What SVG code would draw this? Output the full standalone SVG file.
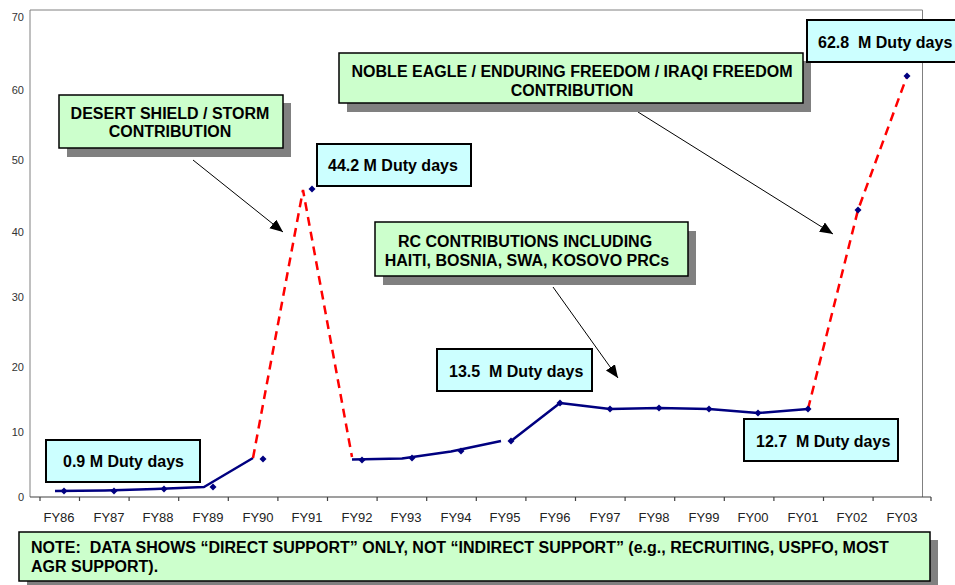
<svg xmlns="http://www.w3.org/2000/svg" xmlns:xlink="http://www.w3.org/1999/xlink" width="955" height="585" viewBox="0 0 955 585">
<style>
.green{fill:#CCFFCC;stroke:#000;stroke-width:1.5}
.cyan{fill:#CCFFFF;stroke:#000;stroke-width:2}
.shadow{fill:#808080}
.lbl{font-family:"Liberation Sans",Arial,sans-serif;font-weight:bold;font-size:16px;fill:#000}
.ax{font-family:"Liberation Sans",Arial,sans-serif;font-size:11px;fill:#333}
.xl{font-family:"Liberation Sans",Arial,sans-serif;font-size:13px;fill:#222;text-anchor:middle}
.navy{fill:none;stroke:#000080;stroke-width:2.5;stroke-linejoin:round}
.red{fill:none;stroke:#FF0000;stroke-width:2.5;stroke-dasharray:9 6}
.arrow{stroke:#000;stroke-width:1;fill:none}
.frame{fill:none;stroke:#808080;stroke-width:1}
.axis{stroke:#404040;stroke-width:1.2;fill:none}
.dm{fill:#000080}
</style>
<defs>
<path id="dia" d="M0,-3.5 L3.5,0 L0,3.5 L-3.5,0 Z"/>
<marker id="ah" markerUnits="userSpaceOnUse" markerWidth="14" markerHeight="12" refX="13" refY="5.5" orient="auto">
<path d="M0,0 L13,5.5 L0,11 Z" fill="#000"/>
</marker>
</defs>
<rect width="955" height="585" fill="#fff"/>

<g id="chart-frame">
<path class="frame" d="M30,497 V10 H922.5 V497"/>
<path class="axis" d="M30,497 H931 M40,497 V501 M79.5,497 V501 M129.1,497 V501 M178.7,497 V501 M228.3,497 V501 M277.9,497 V501 M327.5,497 V501 M377.1,497 V501 M426.7,497 V501 M476.3,497 V501 M525.9,497 V501 M575.5,497 V501 M625.1,497 V501 M674.7,497 V501 M724.3,497 V501 M773.9,497 V501 M823.5,497 V501 M873.1,497 V501 M931,497 V501"/>
</g>

<g id="y-labels" text-anchor="end">
<text class="ax" x="24" y="21">70</text>
<text class="ax" x="24" y="94">60</text>
<text class="ax" x="24" y="164">50</text>
<text class="ax" x="24" y="236">40</text>
<text class="ax" x="24" y="301">30</text>
<text class="ax" x="24" y="371">20</text>
<text class="ax" x="24" y="436">10</text>
<text class="ax" x="24" y="501">0</text>
</g>

<g id="x-labels">
<text class="xl" x="59" y="522">FY86</text>
<text class="xl" x="109" y="522">FY87</text>
<text class="xl" x="158" y="522">FY88</text>
<text class="xl" x="208" y="522">FY89</text>
<text class="xl" x="258" y="522">FY90</text>
<text class="xl" x="307" y="522">FY91</text>
<text class="xl" x="357" y="522">FY92</text>
<text class="xl" x="406" y="522">FY93</text>
<text class="xl" x="456" y="522">FY94</text>
<text class="xl" x="505" y="522">FY95</text>
<text class="xl" x="555" y="522">FY96</text>
<text class="xl" x="605" y="522">FY97</text>
<text class="xl" x="654" y="522">FY98</text>
<text class="xl" x="704" y="522">FY99</text>
<text class="xl" x="753" y="522">FY00</text>
<text class="xl" x="803" y="522">FY01</text>
<text class="xl" x="852" y="522">FY02</text>
<text class="xl" x="902" y="522">FY03</text>
</g>

<g id="data-series">
<polyline class="navy" points="55,491 105,490.5 155,489 204,487 253,458"/>
<polyline class="red" points="253,458 303,190 352,457"/>
<polyline class="navy" points="352,459.5 402,458.5 451,451.5 501,441"/>
<polyline class="navy" points="511,441 560,403 610,409 659,408 709,409 758,413 808,409"/>
<polyline class="red" points="808,409 858,210 907,76"/>
<use href="#dia" class="dm" x="64" y="491"/>
<use href="#dia" class="dm" x="114" y="491"/>
<use href="#dia" class="dm" x="164" y="489"/>
<use href="#dia" class="dm" x="213" y="487"/>
<use href="#dia" class="dm" x="263" y="459"/>
<use href="#dia" class="dm" x="312" y="189"/>
<use href="#dia" class="dm" x="362" y="460"/>
<use href="#dia" class="dm" x="412" y="458"/>
<use href="#dia" class="dm" x="461" y="451"/>
<use href="#dia" class="dm" x="511" y="441"/>
<use href="#dia" class="dm" x="560" y="403"/>
<use href="#dia" class="dm" x="610" y="409"/>
<use href="#dia" class="dm" x="659" y="408"/>
<use href="#dia" class="dm" x="709" y="409"/>
<use href="#dia" class="dm" x="758" y="413"/>
<use href="#dia" class="dm" x="808" y="409"/>
<use href="#dia" class="dm" x="858" y="210"/>
<use href="#dia" class="dm" x="907" y="76"/>
</g>

<g id="connectors">
<line class="arrow" x1="193" y1="160" x2="283" y2="232" marker-end="url(#ah)"/>
<line class="arrow" x1="553" y1="287" x2="618" y2="378" marker-end="url(#ah)"/>
<line class="arrow" x1="638" y1="112" x2="833" y2="234" marker-end="url(#ah)"/>
</g>

<g id="desert-storm">
<rect class="shadow" x="67" y="103" width="224" height="54"/>
<rect class="green" x="59" y="95" width="224" height="53"/>
<text class="lbl" x="170" y="119" text-anchor="middle">DESERT SHIELD / STORM</text>
<text class="lbl" x="170" y="137" text-anchor="middle">CONTRIBUTION</text>
</g>

<g id="noble-eagle">
<rect class="shadow" x="347" y="61" width="464" height="51"/>
<rect class="green" x="339" y="53" width="464" height="50"/>
<text class="lbl" x="572" y="77" text-anchor="middle">NOBLE EAGLE / ENDURING FREEDOM / IRAQI FREEDOM</text>
<text class="lbl" x="572" y="96" text-anchor="middle">CONTRIBUTION</text>
</g>

<g id="rc-contributions">
<rect class="shadow" x="383" y="231" width="313" height="54"/>
<rect class="green" x="375" y="222" width="313" height="54"/>
<text class="lbl" x="525" y="247" text-anchor="middle">RC CONTRIBUTIONS INCLUDING</text>
<text class="lbl" x="527" y="266" text-anchor="middle">HAITI, BOSNIA, SWA, KOSOVO PRCs</text>
</g>

<g id="label-44">
<rect class="cyan" x="317" y="144" width="154" height="42"/>
<text class="lbl" x="328" y="171">44.2 M Duty days</text>
</g>

<g id="label-13">
<rect class="cyan" x="437" y="349" width="155" height="42"/>
<text class="lbl" x="449" y="377" xml:space="preserve">13.5  M Duty days</text>
</g>

<g id="label-09">
<rect class="cyan" x="46" y="440" width="154" height="42"/>
<text class="lbl" x="63" y="467">0.9 M Duty days</text>
</g>

<g id="label-127">
<rect class="cyan" x="744" y="419" width="154" height="42"/>
<text class="lbl" x="756" y="447" xml:space="preserve">12.7  M Duty days</text>
</g>

<g id="label-628">
<rect class="cyan" x="807" y="20" width="155" height="42"/>
<text class="lbl" x="818" y="48" xml:space="preserve">62.8  M Duty days</text>
</g>

<g id="note">
<rect class="shadow" x="27" y="540" width="911" height="50"/>
<rect class="green" x="19" y="532" width="911" height="49"/>
<text class="lbl" x="31" y="553" xml:space="preserve">NOTE:  DATA SHOWS “DIRECT SUPPORT” ONLY, NOT “INDIRECT SUPPORT” (e.g., RECRUITING, USPFO, MOST</text>
<text class="lbl" x="31" y="572">AGR SUPPORT).</text>
</g>
</svg>
